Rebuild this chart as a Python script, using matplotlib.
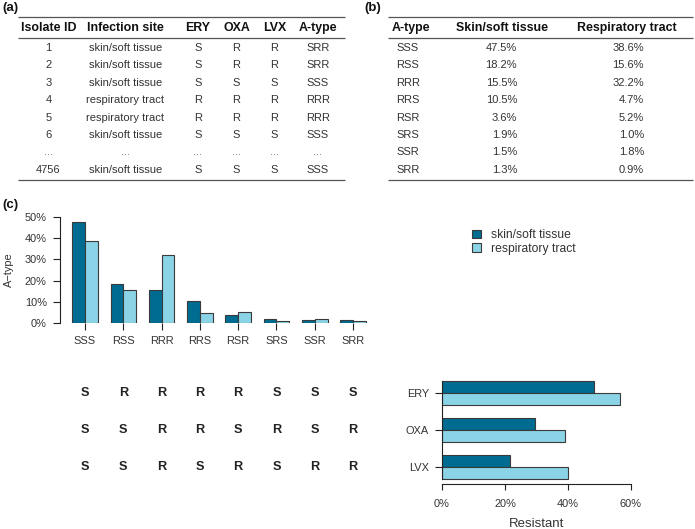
import matplotlib
matplotlib.use('Agg')
import matplotlib.pyplot as plt
from matplotlib.transforms import blended_transform_factory

plt.rcParams['font.family'] = ['Liberation Sans', 'DejaVu Sans']

# ---------------- data ----------------
iso_ids = ['1', '2', '3', '4', '5', '6', '...', '4756']
iso_sites = ['skin/soft tissue', 'skin/soft tissue', 'skin/soft tissue', 'respiratory tract',
             'respiratory tract', 'skin/soft tissue', '...', 'skin/soft tissue']
iso_ery = ['S', 'S', 'S', 'R', 'R', 'S', '...', 'S']
iso_oxa = ['R', 'R', 'S', 'R', 'R', 'S', '...', 'S']
iso_lvx = ['R', 'R', 'S', 'R', 'R', 'S', '...', 'S']
iso_atype = ['SRR', 'SRR', 'SSS', 'RRR', 'RRR', 'SSS', '...', 'SSS']
table_a_headers = ['Isolate ID', 'Infection site', 'ERY', 'OXA', 'LVX', 'A-type']

atypes = ['SSS', 'RSS', 'RRR', 'RRS', 'RSR', 'SRS', 'SSR', 'SRR']
skin_pct = [47.5, 18.2, 15.5, 10.5, 3.6, 1.9, 1.5, 1.3]
resp_pct = [38.6, 15.6, 32.2, 4.7, 5.2, 1.0, 1.8, 0.9]
table_b_headers = ['A-type', 'Skin/soft tissue', 'Respiratory tract']

drugs = ['ERY', 'OXA', 'LVX']
skin_res = [48.1, 29.5, 21.6]
resp_res = [56.5, 39.0, 40.0]
series_labels = ['skin/soft tissue', 'respiratory tract']
y_ticks = [0, 10, 20, 30, 40, 50]
x_ticks_h = [0, 20, 40, 60]

DARK = '#006c91'
LIGHT = '#8bd3e6'
EDGE = '#3a3a3a'
TXT = '#333333'

W, H = 695, 529
fig = plt.figure(figsize=(W / 100, H / 100), dpi=100)


def px_axes(l, t, r, b):
    return fig.add_axes([l / W, 1 - b / H, (r - l) / W, (b - t) / H])


bg = fig.add_axes([0, 0, 1, 1])
bg.set_xlim(0, W)
bg.set_ylim(H, 0)
bg.axis('off')

# ---------------- table (a) ----------------
bg.text(2, 8, '(a)', fontsize=9.5, fontweight='bold', va='center', ha='left', color='#111')
bg.hlines([17, 38, 180], 18, 345, color='#555555', lw=0.9)
bg.hlines([17, 38, 180], 388, 693, color='#555555', lw=0.9)
col_a = [48.5, 125.5, 198, 236.5, 274.5, 318]
for x, h in zip(col_a, table_a_headers):
    bg.text(x, 28, h, fontsize=8.9, fontweight='bold', ha='center', va='center', color='#111')
row_y = [48 + 17.4 * i for i in range(8)]
cols = [iso_ids, iso_sites, iso_ery, iso_oxa, iso_lvx, iso_atype]
for x, col in zip(col_a, cols):
    for y, v in zip(row_y, col):
        c = '#777777' if v == '...' else TXT
        bg.text(x, y, v, fontsize=8, ha='center', va='center', color=c)

# ---------------- table (b) ----------------
bg.text(364, 8, '(b)', fontsize=9.5, fontweight='bold', va='center', ha='left', color='#111')
bg.text(392, 28, table_b_headers[0], fontsize=8.9, fontweight='bold', ha='left', va='center', color='#111')
bg.text(502, 28, table_b_headers[1], fontsize=8.9, fontweight='bold', ha='center', va='center', color='#111')
bg.text(627, 28, table_b_headers[2], fontsize=8.9, fontweight='bold', ha='center', va='center', color='#111')
for y, a, s, r in zip(row_y, atypes, skin_pct, resp_pct):
    bg.text(396, y, a, fontsize=8, ha='left', va='center', color=TXT)
    bg.text(517, y, f'{s:.1f}%', fontsize=8, ha='right', va='center', color=TXT)
    bg.text(644, y, f'{r:.1f}%', fontsize=8, ha='right', va='center', color=TXT)

# ---------------- (c) bar chart ----------------
bg.text(2, 205, '(c)', fontsize=9.5, fontweight='bold', va='center', ha='left', color='#111')
ax = px_axes(60, 217, 370, 323)
ax.set_facecolor('none')
xs = list(range(len(atypes)))
w = 1 / 3
b1 = ax.bar([x - w / 2 for x in xs], skin_pct, width=w, color=DARK, edgecolor=EDGE, lw=0.8,
            label=series_labels[0])
b2 = ax.bar([x + w / 2 for x in xs], resp_pct, width=w, color=LIGHT, edgecolor=EDGE, lw=0.8,
            label=series_labels[1])
ax.set_xlim((60 - 85) / 38.29, (370 - 85) / 38.29)
ax.set_ylim(0, 50)
for s in ['top', 'right', 'bottom']:
    ax.spines[s].set_visible(False)
ax.spines['left'].set_bounds(0, 50)
ax.spines['left'].set_color('#222')
ax.set_yticks(y_ticks)
ax.set_yticklabels([f'{v}%' for v in y_ticks])
ax.set_xticks(xs)
ax.set_xticklabels(atypes)
ax.tick_params(axis='y', length=5, pad=4.5, labelsize=7.9, colors='#222', labelcolor=TXT, width=0.8)
ax.tick_params(axis='x', length=5, pad=4, labelsize=7.9, colors='#222', labelcolor=TXT, width=0.8)
bg.text(9, 270, 'A\u2212type', rotation=90, fontsize=7.9, ha='center', va='center', color=TXT)

ax.legend(handles=[b1, b2], labels=series_labels, loc='upper left',
          bbox_to_anchor=(472 / W, 1 - 229 / H), bbox_transform=fig.transFigure,
          frameon=False, fontsize=8.7, handlelength=0.75, handleheight=0.7,
          handletextpad=0.8, labelspacing=0.15, borderpad=0, borderaxespad=0,
          labelcolor=TXT)

# ---------------- horizontal bar chart ----------------
axh = px_axes(442, 380, 631, 484)
axh.set_facecolor('none')
ys = list(range(len(drugs)))
axh.barh([y - w / 2 for y in ys], skin_res, height=w, color=DARK, edgecolor=EDGE, lw=0.8)
axh.barh([y + w / 2 for y in ys], resp_res, height=w, color=LIGHT, edgecolor=EDGE, lw=0.8)
axh.set_xlim(0, 60)
axh.set_ylim((484 - 393) / 36.9, (380 - 393) / 36.9)
for s in ['top', 'right']:
    axh.spines[s].set_visible(False)
axh.spines['left'].set_bounds(-1 / 3, 2 + 1 / 3)
axh.spines['bottom'].set_bounds(0, 60)
axh.spines['left'].set_color('#222')
axh.spines['bottom'].set_color('#222')
axh.set_yticks(ys)
axh.set_yticklabels(drugs)
axh.set_xticks(x_ticks_h)
axh.set_xticklabels([f'{v}%' for v in x_ticks_h])
axh.tick_params(axis='y', length=5, pad=4.5, labelsize=7.9, colors='#222', labelcolor=TXT, width=0.8)
axh.tick_params(axis='x', length=4, pad=6.5, labelsize=7.9, colors='#222', labelcolor=TXT, width=0.8)
bg.text(536.5, 524, 'Resistant', fontsize=9.5, ha='center', va='center', color=TXT)

# ---------------- letter grid ----------------
tr = blended_transform_factory(ax.transData, axh.transData)
for r, d in enumerate(drugs):
    for k, a in enumerate(atypes):
        bg.text(k, r, a[r], transform=tr, fontsize=9.2, fontweight='bold', ha='center', va='center',
                color='#222')

fig.savefig('out.png', dpi=100)
